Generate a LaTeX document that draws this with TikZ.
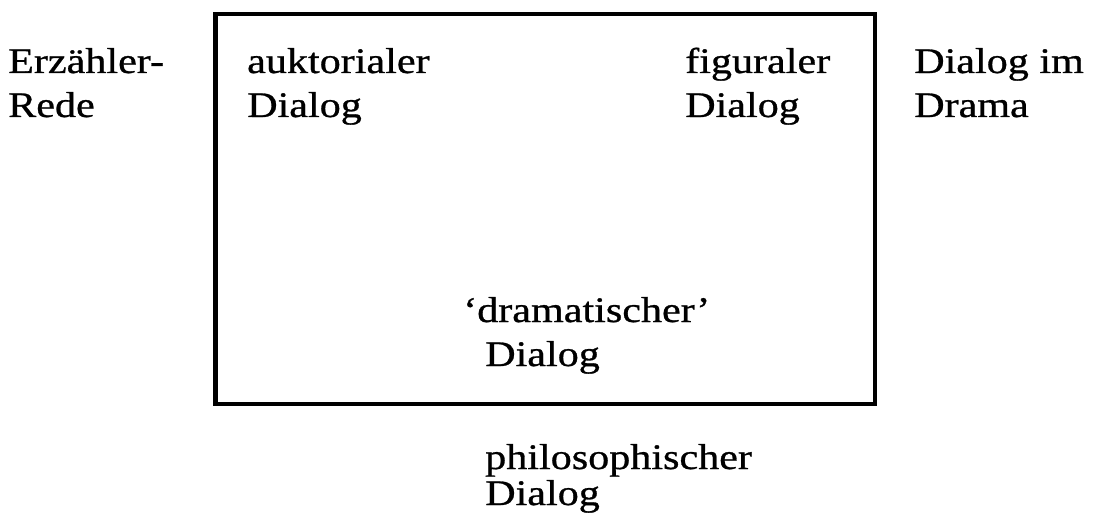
\documentclass[tikz,border=0pt]{standalone}
\usepackage{fontspec}
\setmainfont{Liberation Serif}[FakeStretch=1.17,FakeBold=0.8]
\begin{document}
\begin{tikzpicture}[x=1pt,y=1pt,
  lbl/.style={anchor=base west, inner sep=0pt, font=\fontsize{36}{40}\selectfont},
  framebox/.style={draw=black, line width=4.5pt}]
\useasboundingbox (0,0) rectangle (1094,-513);
% the frame
\draw[framebox] (215.5,-14) rectangle (875,-404);
% labels outside the frame
\node[lbl] (erzA) at (8,-73) {Erzähler-};
\node[lbl] (erzB) at (8,-117) {Rede};
\node[lbl] (draA) at (914,-73) {Dialog im};
\node[lbl] (draB) at (914,-117) {Drama};
% labels inside the frame
\node[lbl] (aukA) at (247,-73) {auktorialer};
\node[lbl] (aukB) at (247,-117) {Dialog};
\node[lbl] (figA) at (685,-73) {figuraler};
\node[lbl] (figB) at (685,-117) {Dialog};
\node[lbl] (dmtA) at (463,-322) {‘dramatischer’};
\node[lbl] (dmtB) at (485,-366) {Dialog};
% label below the frame
\node[lbl] (phiA) at (485,-469) {philosophischer};
\node[lbl] (phiB) at (485,-505) {Dialog};
\end{tikzpicture}
\end{document}
